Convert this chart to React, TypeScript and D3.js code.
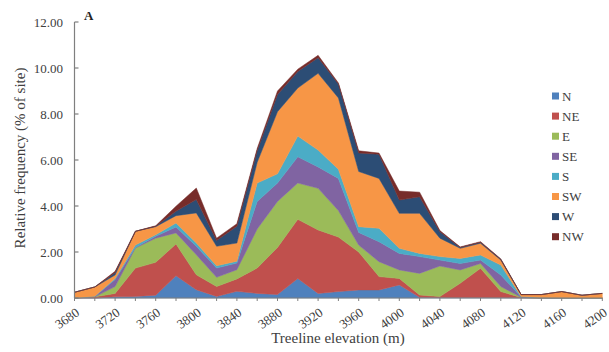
import React from "react";
import * as d3 from "d3";

// elevation classes (m), every 20 m
const elevations = [
  3680, 3700, 3720, 3740, 3760, 3780, 3800, 3820, 3840, 3860, 3880, 3900, 3920, 3940,
  3960, 3980, 4000, 4020, 4040, 4060, 4080, 4100, 4120, 4140, 4160, 4180, 4200,
];
const xTickLabels = [3680, 3720, 3760, 3800, 3840, 3880, 3920, 3960, 4000, 4040, 4080, 4120, 4160, 4200];
const yTicks = [0, 2, 4, 6, 8, 10, 12];

const aspects = ["N", "NE", "E", "SE", "S", "SW", "W", "NW"];
const colors = ["#4f81bd", "#c0504d", "#9bbb59", "#8064a2", "#4bacc6", "#f79646", "#2c4d75", "#772c2a"];

// relative frequency (% of site) per aspect
const N = [0, 0, 0.05, 0.07, 0.12, 0.97, 0.36, 0.07, 0.29, 0.2, 0.15, 0.85, 0.2, 0.28, 0.35, 0.35, 0.57, 0.03, 0.02, 0.02, 0.02, 0.02, 0.01, 0, 0, 0, 0];
const NE = [0, 0.05, 0.15, 1.23, 1.43, 1.38, 0.65, 0.43, 0.54, 1.1, 2.05, 2.57, 2.76, 2.37, 1.65, 0.58, 0.28, 0.1, 0.04, 0.62, 1.27, 0.26, 0.01, 0, 0, 0, 0];
const E = [0, 0, 0.3, 0.87, 1.05, 0.48, 0.87, 0.4, 0.4, 1.7, 2.0, 1.58, 1.81, 1.15, 0.3, 0.65, 0.37, 0.94, 1.33, 0.58, 0.21, 0.22, 0.01, 0, 0, 0, 0];
const SE = [0, 0.02, 0.3, 0.03, 0.08, 0.26, 0.37, 0.4, 0.29, 1.2, 0.8, 1.14, 0.93, 1.4, 0.55, 0.87, 0.72, 0.73, 0.26, 0.28, 0.15, 0.5, 0.02, 0.01, 0, 0, 0];
const S = [0, 0.01, 0.05, 0.1, 0.07, 0.17, 0.14, 0.1, 0.08, 0.8, 0.4, 0.9, 0.73, 0.4, 0.25, 0.58, 0.22, 0.14, 0.15, 0.22, 0.22, 0.43, 0.02, 0.01, 0.01, 0, 0];
const SW = [0.25, 0.4, 0.15, 0.6, 0.35, 0.32, 1.31, 0.85, 0.79, 0.9, 2.7, 2.09, 3.34, 3.1, 2.4, 2.17, 1.52, 1.74, 0.8, 0.44, 0.51, 0.22, 0.08, 0.13, 0.27, 0.12, 0.2];
const W = [0, 0, 0.1, 0, 0.02, 0.19, 0.58, 0.25, 0.73, 0.5, 0.75, 0.72, 0.68, 0.6, 0.8, 1.05, 0.58, 0.72, 0.28, 0.04, 0.04, 0.03, 0, 0, 0, 0, 0];
const NW = [0, 0, 0.06, 0, 0.02, 0.22, 0.5, 0.1, 0.11, 0.1, 0.15, 0.1, 0.1, 0.05, 0.1, 0.05, 0.39, 0.2, 0.05, 0.02, 0.03, 0.02, 0, 0, 0, 0, 0];

const series = [N, NE, E, SE, S, SW, W, NW];

export default function App() {
  const width = 609;
  const height = 352;
  const font = "'Liberation Serif', 'Times New Roman', serif";

  const rows = elevations.map((e, i) => {
    const r: any = { elev: e };
    aspects.forEach((k, j) => (r[k] = series[j][i]));
    return r;
  });
  const stacked = d3.stack().keys(aspects)(rows);

  const x = d3.scaleLinear().domain([3680, 4200]).range([74.5, 602.3]);
  const y = d3.scaleLinear().domain([0, 12]).range([298, 22]);

  const area = d3
    .area<any>()
    .x((d) => x(d.data.elev))
    .y0((d) => y(d[0]))
    .y1((d) => y(d[1]));

  const axisColor = "#7f7f7f";
  const textColor = "#404040";

  return (
    <div style={{ position: "absolute", left: 0, top: 0 }}>
      <svg width={width} height={height} style={{ display: "block", background: "#fff" }}>
        {stacked.map((s, i) => (
          <path key={aspects[i]} d={area(s) || ""} fill={colors[i]} stroke={colors[i]} strokeWidth={0.5} />
        ))}

        {/* y axis */}
        <line x1={74.5} x2={74.5} y1={y(12)} y2={y(0)} stroke={axisColor} strokeWidth={1.2} />
        {yTicks.map((t) => (
          <g key={t}>
            <line x1={74.5} x2={78.5} y1={y(t)} y2={y(t)} stroke={axisColor} strokeWidth={1.2} />
            <text
              x={63}
              y={y(t)}
              dy="0.35em"
              textAnchor="end"
              fontFamily={font}
              fontSize={13}
              fill={textColor}
            >
              {d3.format(".2f")(t)}
            </text>
          </g>
        ))}

        {/* x axis */}
        <line x1={74.5} x2={x(4200)} y1={y(0)} y2={y(0)} stroke={axisColor} strokeWidth={1.2} />
        {elevations.map((e) => (
          <line key={e} x1={x(e)} x2={x(e)} y1={y(0)} y2={y(0) + 3} stroke={axisColor} strokeWidth={1} />
        ))}
        {xTickLabels.map((e) => (
          <text
            key={e}
            transform={`translate(${x(e) + 0.5},${y(0) + 9}) rotate(-35)`}
            textAnchor="end"
            dy="0.7em"
            fontFamily={font}
            fontSize={13}
            fill={textColor}
          >
            {e}
          </text>
        ))}

        {/* titles */}
        <text
          x={338}
          y={343}
          textAnchor="middle"
          fontFamily={font}
          fontSize={15}
          fill={textColor}
        >
          Treeline elevation (m)
        </text>
        <text
          transform={`translate(25,158) rotate(-90)`}
          textAnchor="middle"
          fontFamily={font}
          fontSize={15}
          fill={textColor}
        >
          Relative frequency (% of site)
        </text>
        <text x={84} y={20} fontFamily={font} fontSize={13} fontWeight="bold" fill="#222">
          A
        </text>

        {/* legend */}
        {aspects.map((k, i) => (
          <g key={k} transform={`translate(552,${96 + i * 20.1})`}>
            <rect x={0} y={-3.5} width={7} height={7} fill={colors[i]} />
            <text x={10} y={0} dy="0.35em" fontFamily={font} fontSize={13} fill={textColor}>
              {k}
            </text>
          </g>
        ))}
      </svg>
    </div>
  );
}
